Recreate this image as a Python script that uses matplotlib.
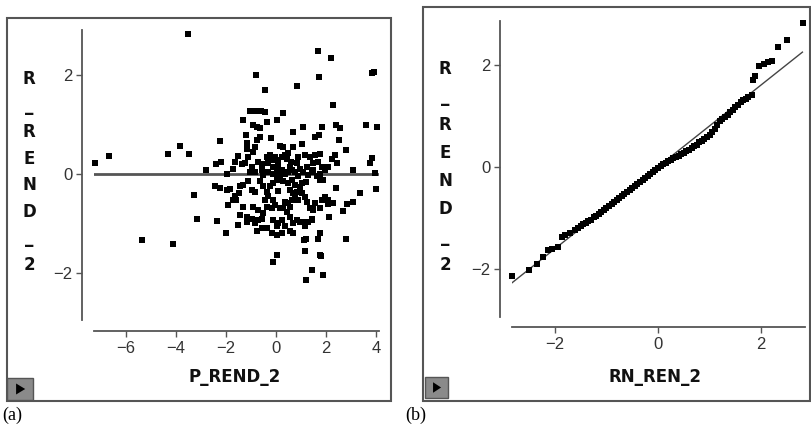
import matplotlib
matplotlib.use("Agg")
import matplotlib.pyplot as plt
from matplotlib.patches import Rectangle, Polygon

# panel (a): predicted vs residual
pred_a = [-3.53, -7.23, -6.67, -4.33, -3.83, -3.49, -2.24, -2.81, -3.27, -3.15,
          -5.36, -4.12, -2.36, -2.01, -2.41, -2.21, -2.44, -2.24, -1.96, -1.53,
          -0.81, -0.43, 1.68, 2.19, 1.73, 0.83, 3.85, 3.90, 2.29, 0.27,
          0.03, -0.37, -1.33, -1.04, -0.90, -0.75, -0.60, -0.44, -1.20, -0.93,
          -0.77, -0.64, 1.09, 1.83, 2.40, 2.56, 3.60, 4.05, 0.69, 1.03,
          1.56, 1.73, 2.51, 2.80, -0.21, -0.77, -0.64, -0.84, -0.91, -1.17,
          -1.15, -1.51, -1.64, -1.37, -1.11, 0.16, 0.29, 0.67, 0.49, 0.43,
          0.59, -0.37, -0.31, -0.11, 0.09, 0.23, 0.03, -0.24, -0.17, -0.55,
          -0.57, -0.51, 0.89, 0.83, 0.96, 1.16, 1.36, 1.56, 1.76, 1.49,
          1.69, 1.83, 1.49, 1.76, 1.96, 2.36, 2.43, 2.09, 3.09, 3.76,
          3.83, 3.96, 2.40, 3.36, 3.07, 2.69, 2.83, 4.00, 2.80, 2.13,
          1.76, 1.96, 1.83, 2.09, 2.29, 2.09, 1.76, 1.89, 1.63, 1.43,
          1.20, 1.03, 0.96, 0.83, 0.56, 0.69, 0.76, 0.63, 0.49, 0.36,
          0.29, 0.43, 0.56, 0.89, 1.03, 1.16, 1.23, 1.36, 1.49, 1.43,
          1.29, 1.16, 1.12, 1.20, 1.16, 1.20, 1.45, 1.89, 1.76, 1.81,
          1.69, 1.76, 1.49, 1.56, -0.13, 0.03, 0.23, 0.03, -0.17, -0.77,
          -0.57, -0.37, -0.84, -0.71, -1.44, -1.31, -1.15, -1.17, -1.59, -1.64,
          -1.48, -1.44, -1.31, -1.11, -0.97, -0.84, -0.64, -0.51, -0.37, -0.24,
          -0.11, 0.03, 0.16, 0.29, -0.91, -0.71, -0.51, -0.37, -0.57, -0.11,
          0.09, 0.23, 0.03, 0.36, 0.56, 0.69, 0.83, 0.96, 1.09, 1.43,
          0.69, 0.56, -0.11, -0.04, 0.16, -0.17, 0.49, 0.63, 0.76, 0.36,
          0.49, 0.63, 0.76, 0.89, 1.09, 1.23, 1.29, -0.04, 0.09, 0.23,
          -0.97, -0.84, -1.04, -0.71, -1.24, -1.71, -1.84, -1.97, -0.31, -0.44,
          0.09, -1.71, -1.91, -0.97, 2.23, 0.36, 0.56, -0.31, -0.13, 0.09]
resid_a = [2.83, 0.23, 0.37, 0.40, 0.57, 0.40, 0.66, 0.08, -0.43, -0.90,
           -1.34, -1.41, -0.95, -1.20, 0.20, 0.24, -0.24, -0.28, 0.01, -1.03,
           2.01, 1.69, 2.49, 2.34, 1.97, 1.77, 2.05, 2.06, 1.40, 1.23,
           1.09, 1.06, 1.09, 1.28, 1.28, 1.28, 1.28, 1.26, 0.79, 0.99,
           0.96, 0.92, 0.94, 0.94, 1.00, 0.92, 1.00, 0.94, 0.84, 0.60,
           0.75, 0.79, 0.69, 0.48, 0.72, 0.69, 0.74, 0.55, 0.45, 0.62,
           0.50, 0.36, 0.25, 0.20, 0.35, 0.57, 0.55, 0.55, 0.42, 0.30,
           0.25, 0.35, 0.22, 0.15, 0.18, 0.08, 0.08, 0.38, 0.28, 0.20,
           0.08, -0.02, 0.35, 0.22, 0.11, 0.38, 0.35, 0.38, 0.40, 0.22,
           0.25, 0.15, 0.08, 0.01, 0.08, 0.38, 0.22, 0.15, 0.08, 0.22,
           0.32, 0.03, -0.29, -0.38, -0.57, -0.74, -0.61, -0.31, -1.32, -0.86,
           -0.69, -0.46, -0.53, -0.53, -0.59, -0.61, -0.12, -0.12, -0.05, 0.05,
           -0.17, -0.19, -0.26, -0.36, -0.32, -0.39, -0.46, -0.53, -0.59, -0.56,
           -0.69, -0.76, -0.66, -0.53, -0.39, -0.46, -0.56, -0.69, -0.73, -0.90,
           -0.96, -1.06, -1.33, -1.31, -1.55, -2.15, -1.94, -2.04, -1.63, -1.65,
           -1.32, -1.20, -0.69, -0.59, -1.77, -1.64, -1.20, -1.23, -1.20, -1.16,
           -1.09, -1.09, -1.00, -0.93, -0.83, -0.66, -0.86, -0.96, -0.52, -0.45,
           -0.39, -0.25, -0.22, -0.15, -0.32, -0.36, -0.15, -0.25, -0.36, -0.25,
           -0.19, -0.12, -0.05, -0.15, -0.66, -0.73, -0.79, -0.66, -0.90, -0.93,
           -1.00, -0.93, -1.06, -1.06, -0.86, -1.00, -0.93, -0.96, -0.96, -0.93,
           -1.20, -1.16, -0.52, -0.63, -0.69, -0.69, -0.19, -0.12, -0.22, 0.01,
           0.05, 0.08, 0.05, -0.05, 0.05, 0.15, -0.02, 0.35, 0.28, 0.35,
           0.15, 0.05, 0.05, 0.25, 0.22, 0.10, -0.30, -0.32, -0.45, -0.52,
           -0.35, -0.52, -0.62, -0.90, 0.30, 0.38, 0.15, 0.05, 0.01, -0.02]

# panel (b): normal quantiles vs sorted residuals
qq_x = [-2.83, -2.50, -2.34, -2.23, -2.13, -2.06, -1.94, -1.87, -1.81, -1.71,
        -1.61, -1.55, -1.50, -1.45, -1.40, -1.35, -1.30, -1.25, -1.20, -1.15,
        -1.10, -1.05, -1.00, -0.95, -0.90, -0.85, -0.80, -0.75, -0.70, -0.65,
        -0.60, -0.55, -0.50, -0.45, -0.40, -0.35, -0.30, -0.25, -0.20, -0.15,
        -0.10, -0.05, 0.00, 0.05, 0.10, 0.15, 0.20, 0.25, 0.30, 0.35,
        0.40, 0.45, 0.50, 0.55, 0.60, 0.65, 0.70, 0.75, 0.80, 0.85,
        0.90, 0.95, 1.00, 1.05, 1.10, 1.15, 1.20, 1.25, 1.30, 1.35,
        1.40, 1.45, 1.50, 1.55, 1.60, 1.65, 1.70, 1.75, 1.82, 1.85,
        1.88, 1.95, 2.05, 2.14, 2.21, 2.32, 2.50, 2.81]
qq_y = [-2.14, -2.01, -1.90, -1.76, -1.63, -1.61, -1.56, -1.37, -1.33, -1.30,
        -1.24, -1.20, -1.16, -1.12, -1.09, -1.06, -1.03, -0.99, -0.96, -0.92,
        -0.88, -0.84, -0.80, -0.76, -0.72, -0.68, -0.65, -0.61, -0.57, -0.53,
        -0.49, -0.45, -0.41, -0.37, -0.33, -0.29, -0.26, -0.22, -0.18, -0.14,
        -0.10, -0.06, -0.02, 0.02, 0.05, 0.08, 0.11, 0.14, 0.17, 0.19,
        0.22, 0.25, 0.28, 0.31, 0.34, 0.37, 0.41, 0.44, 0.48, 0.51,
        0.55, 0.59, 0.63, 0.68, 0.74, 0.82, 0.90, 0.94, 0.98, 1.02,
        1.07, 1.12, 1.17, 1.22, 1.27, 1.31, 1.34, 1.37, 1.41, 1.71,
        1.78, 1.98, 2.02, 2.05, 2.07, 2.35, 2.49, 2.83]
fit_x = [-2.83, 2.80]
fit_y = [-2.27, 2.25]

W, H = 811, 425
fig = plt.figure(figsize=(W / 100, H / 100), dpi=100)


def box(x0, y0, x1, y1):
    # pixel box (from top-left) -> figure fractions
    return [x0 / W, 1 - y1 / H, (x1 - x0) / W, (y1 - y0) / H]


def frame(x0, y0, x1, y1):
    fig.add_artist(Rectangle((x0 / W, 1 - y1 / H), (x1 - x0) / W, (y1 - y0) / H,
                             transform=fig.transFigure, fill=False,
                             edgecolor='#555555', lw=1.5))


def play_button(x0, y0, x1, y1):
    fig.add_artist(Rectangle((x0 / W, 1 - y1 / H), (x1 - x0) / W, (y1 - y0) / H,
                             transform=fig.transFigure, facecolor='#8a8a8a',
                             edgecolor='#555555', lw=1))
    cx0, cx1 = x0 + (x1 - x0) * 0.35, x0 + (x1 - x0) * 0.7
    cy0, cy1 = y0 + (y1 - y0) * 0.25, y1 - (y1 - y0) * 0.25
    tri = [(cx0 / W, 1 - cy0 / H), (cx0 / W, 1 - cy1 / H), (cx1 / W, 1 - (cy0 + cy1) / 2 / H)]
    fig.add_artist(Polygon(tri, closed=True, transform=fig.transFigure,
                           facecolor='black', edgecolor='none'))


def style_axes(ax, left_off, bottom_off):
    for s in ['top', 'right']:
        ax.spines[s].set_visible(False)
    ax.spines['left'].set_position(('outward', left_off * 0.72))
    ax.spines['bottom'].set_position(('outward', bottom_off * 0.72))
    for s in ['left', 'bottom']:
        ax.spines[s].set_color('#555555')
        ax.spines[s].set_linewidth(1.3)
    ax.tick_params(length=4, width=1, color='#555555', labelcolor='#333333',
                   labelsize=12, pad=3)
    for lab in ax.get_xticklabels() + ax.get_yticklabels():
        lab.set_family('Liberation Sans')
    ax.patch.set_alpha(0)


def stacked_label(text, xc, yc, spacing):
    fig.text(xc / W, 1 - yc / H, '\n'.join(text), ha='center', va='center',
             fontsize=12, fontweight='bold', family='DejaVu Sans',
             linespacing=spacing, color='#111111')


mark = dict(marker='s', s=15, color='black', linewidths=0, clip_on=False)

# ---- (a) ----
frame(7, 18, 391, 401)
ax1 = fig.add_axes(box(94, 30, 379, 320))
ax1.scatter(pred_a, resid_a, **mark, zorder=3)
ax1.axhline(0, color='#555555', lw=2, zorder=2)
ax1.set_xlim(-7.28, 4.12)
ax1.set_ylim(-2.95, 2.91)
ax1.set_xticks([-6, -4, -2, 0, 2, 4])
ax1.set_yticks([-2, 0, 2])
ax1.set_xticklabels(['\u22126', '\u22124', '\u22122', '0', '2', '4'])
ax1.set_yticklabels(['\u22122', '0', '2'])
style_axes(ax1, 12, 11)
stacked_label('R_REND_2', 29, 172, 1.61)
fig.text(235 / W, 1 - 377 / H, 'P_REND_2', ha='center', va='center',
         fontsize=12, fontweight='bold', color='#111111')
play_button(7, 378, 33, 400)
fig.text(2 / W, 1 - 415 / H, '(a)', ha='left', va='center',
         fontsize=13, family='Liberation Serif')

# ---- (b) ----
frame(423, 7, 810, 401)
ax2 = fig.add_axes(box(512, 21, 805, 317))
ax2.scatter(qq_x, qq_y, **mark, zorder=3)
ax2.plot(fit_x, fit_y, color='#444444', lw=1, zorder=2)
ax2.set_xlim(-2.83, 2.85)
ax2.set_ylim(-2.94, 2.86)
ax2.set_xticks([-2, 0, 2])
ax2.set_yticks([-2, 0, 2])
ax2.set_xticklabels(['\u22122', '0', '2'])
ax2.set_yticklabels(['\u22122', '0', '2'])
style_axes(ax2, 12, 10)
stacked_label('R_REND_2', 445, 167, 1.71)
fig.text(655 / W, 1 - 377 / H, 'RN_REN_2', ha='center', va='center',
         fontsize=12, fontweight='bold', color='#111111')
play_button(425, 377, 448, 398)
fig.text(405 / W, 1 - 415 / H, '(b)', ha='left', va='center',
         fontsize=13, family='Liberation Serif')

fig.savefig('out.png', dpi=100)
